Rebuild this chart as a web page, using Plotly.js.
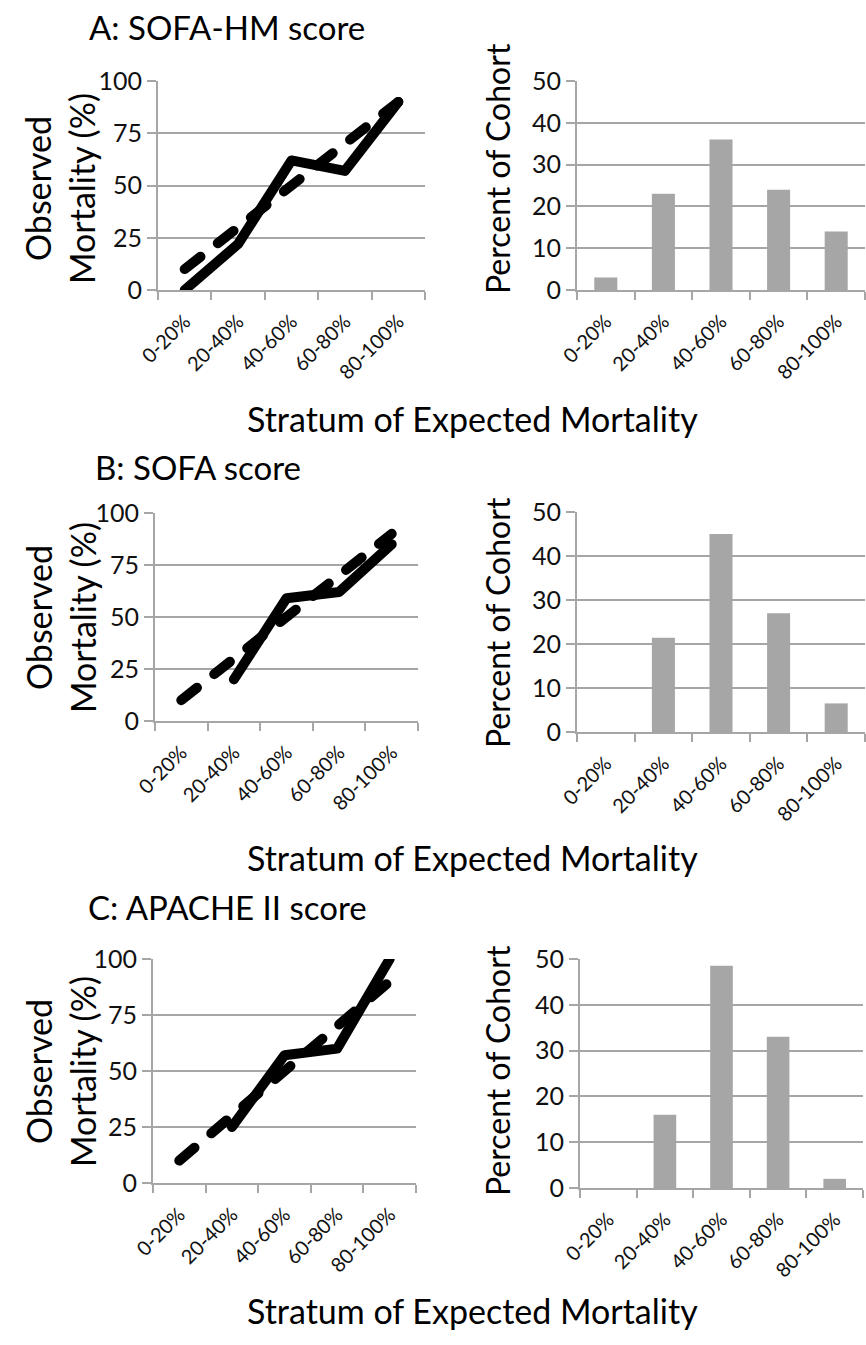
<!DOCTYPE html>
<html>
<head>
<meta charset="utf-8">
<script src="https://cdn.plot.ly/plotly-3.0.1.min.js"></script>
<style>
html,body{margin:0;padding:0;background:#fff;}
#chart{width:866px;height:1345px;}
path.js-line{stroke-linecap:round;stroke-linejoin:round;}
</style>
</head>
<body>
<div id="chart"></div>
<script>
// ---- data ----
const categories = ['0-20%', '20-40%', '40-60%', '60-80%', '80-100%'];
const expectedMortality = [10, 30, 50, 70, 90];
const observedA = [0, 22, 62, 57, 90];
const observedB = [null, 20, 59, 62, 85];
const observedC = [null, 25, 57, 60, 100];
const cohortA = [3, 23, 36, 24, 14];
const cohortB = [0, 21.4, 45, 27, 6.5];
const cohortC = [0, 16, 48.5, 33, 2];
const panelTitles = ['A: SOFA-HM score', 'B: SOFA score', 'C: APACHE II score'];
const lineTicks = [0, 25, 50, 75, 100];
const barTicks = [0, 10, 20, 30, 40, 50];

const W = 866, H = 1345;
const FONT = 'Lato, "Open Sans", sans-serif';
const GRID = '#a6a6a6';
const BAR = '#a6a6a6';

function px2x(p){ return p / W; }
function px2y(p){ return 1 - p / H; }

const panels = [
  {obs: observedA, coh: cohortA, line: {x:[158,425], y:[81,290]}, bar: {x:[577,865], y:[81,290]},
   title: {x:87, y:27}, xlab: 418, ytitleLine: 188, ytitleBar: 168},
  {obs: observedB, coh: cohortB, line: {x:[155,418], y:[513,721]}, bar: {x:[577,865], y:[512,732]},
   title: {x:93, y:467}, xlab: 857, ytitleLine: 617, ytitleBar: 622},
  {obs: observedC, coh: cohortC, line: {x:[153,416], y:[959,1183]}, bar: {x:[580,863], y:[959,1188]},
   title: {x:86, y:907}, xlab: 1310, ytitleLine: 1071, ytitleBar: 1070}
];

const traces = [];
const layout = {
  width: W, height: H,
  margin: {l:0, r:0, t:0, b:0},
  paper_bgcolor: '#fff', plot_bgcolor: '#fff',
  showlegend: false,
  font: {family: FONT, color: '#111'},
  annotations: []
};

function xaxisCfg(domain, anchor){
  return {
    domain: domain, anchor: anchor, type: 'category', range: [-0.5, 4.5],
    showgrid: false, showline: true, linecolor: GRID, linewidth: 2,
    ticks: 'outside', tickson: 'boundaries', ticklen: 8, tickcolor: GRID, tickwidth: 2,
    tickangle: -45, ticklabelstandoff: 10, tickfont: {family: FONT, size: 20, color: '#111'},
    zeroline: false, fixedrange: true
  };
}
function yaxisCfg(domain, anchor, range, tickvals){
  return {
    domain: domain, anchor: anchor, range: range, tickvals: tickvals,
    showgrid: true, gridcolor: GRID, gridwidth: 2,
    showline: true, linecolor: GRID, linewidth: 2,
    ticks: 'outside', ticklen: 9, tickcolor: GRID, tickwidth: 2,
    tickfont: {family: FONT, size: 25, color: '#111'},
    zeroline: false, fixedrange: true
  };
}

panels.forEach((p, i) => {
  const li = 2*i + 1, bi = 2*i + 2;
  const xl = 'x' + li, yl = 'y' + li, xb = 'x' + bi, yb = 'y' + bi;
  layout['xaxis' + li] = xaxisCfg([px2x(p.line.x[0]), px2x(p.line.x[1])], yl);
  layout['yaxis' + li] = yaxisCfg([px2y(p.line.y[1]), px2y(p.line.y[0])], xl, [0, 100], lineTicks);
  layout['xaxis' + bi] = xaxisCfg([px2x(p.bar.x[0]), px2x(p.bar.x[1])], yb);
  layout['yaxis' + bi] = yaxisCfg([px2y(p.bar.y[1]), px2y(p.bar.y[0])], xb, [0, 50], barTicks);

  traces.push({
    type: 'scatter', mode: 'lines', x: categories, y: expectedMortality,
    xaxis: xl, yaxis: yl, name: 'Expected',
    line: {color: '#000', width: 10, dash: '20px,22px'}, hoverinfo: 'skip'
  });
  traces.push({
    type: 'scatter', mode: 'lines', x: categories, y: p.obs,
    xaxis: xl, yaxis: yl, name: 'Observed', connectgaps: false,
    line: {color: '#000', width: 10}, hoverinfo: 'skip'
  });
  traces.push({
    type: 'bar', x: categories, y: p.coh, xaxis: xb, yaxis: yb, name: 'Cohort',
    marker: {color: BAR}, hoverinfo: 'skip'
  });

  layout.annotations.push({
    xref: 'paper', yref: 'paper', x: px2x(p.title.x), y: px2y(p.title.y),
    xanchor: 'left', yanchor: 'middle', showarrow: false,
    text: panelTitles[i], font: {family: FONT, size: 33, color: '#000'}
  });
  layout.annotations.push({
    xref: 'paper', yref: 'paper', x: px2x(472), y: px2y(p.xlab),
    xanchor: 'center', yanchor: 'middle', showarrow: false,
    text: 'Stratum of Expected Mortality', font: {family: FONT, size: 34, color: '#000'}
  });
  layout.annotations.push({
    xref: 'paper', yref: 'paper', x: px2x(60), y: px2y(p.ytitleLine),
    xanchor: 'center', yanchor: 'middle', showarrow: false, textangle: -90,
    text: 'Observed<br>Mortality (%)', font: {family: FONT, size: 34, color: '#000'}
  });
  layout.annotations.push({
    xref: 'paper', yref: 'paper', x: px2x(497), y: px2y(p.ytitleBar),
    xanchor: 'center', yanchor: 'middle', showarrow: false, textangle: -90,
    text: 'Percent of Cohort', font: {family: FONT, size: 32, color: '#000'}
  });
});
layout.bargap = 0.6;

Plotly.newPlot('chart', traces, layout, {staticPlot: true, displayModeBar: false});
</script>
</body>
</html>
